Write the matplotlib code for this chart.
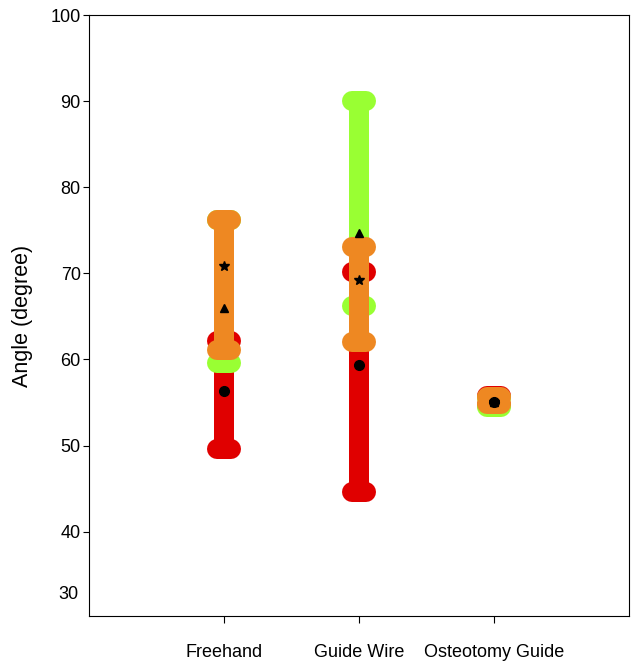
import numpy as np
import matplotlib.pyplot as plt
import matplotlib.transforms as mtransforms

plt.rcParams['font.family'] = ['Liberation Sans', 'DejaVu Sans']

categories = ['Freehand', 'Guide Wire', 'Osteotomy Guide']

# range (min, max) and mean for each group
red_min = [49.6, 44.6, 54.7]
red_max = [62.1, 70.1, 55.8]
red_mean = [56.3, 59.3, 55.1]

green_min = [59.6, 66.2, 54.5]
green_max = [76.2, 90.0, 55.5]
green_mean = [66.0, 74.7, 55.1]

orange_min = [61.1, 62.0, 54.8]
orange_max = [76.2, 73.0, 55.6]
orange_mean = [70.8, 69.2, 55.1]

series = [
    (red_min, red_max, red_mean, '#e00000', 'o'),
    (green_min, green_max, green_mean, '#99ff33', '^'),
    (orange_min, orange_max, orange_mean, '#ee8822', '*'),
]

fig = plt.figure(figsize=(6.33, 6.62), dpi=100)
ax = fig.add_axes([89 / 633, 1 - 616 / 662, 540 / 633, 601 / 662])

x = np.arange(1, len(categories) + 1)
lw = 14.4
half = 0.055

for lo, hi, mean, col, mk in series:
    for xi, a, b in zip(x, lo, hi):
        ax.plot([xi, xi], [a, b], color=col, lw=lw, solid_capstyle='butt', zorder=2)
        for v in (a, b):
            ax.plot([xi - half, xi + half], [v, v], color=col, lw=lw,
                    solid_capstyle='round', zorder=2)

for lo, hi, mean, col, mk in series:
    ax.plot(x, mean, linestyle='none', marker=mk, color='black',
            markersize=7 if mk != '^' else 6, zorder=5)

ax.set_xlim(0, 4)
ax.set_ylim(30.2, 100)
ax.set_xticks(x)
ax.set_xticklabels(categories, fontsize=13)
ax.set_yticks([40, 50, 60, 70, 80, 90, 100])
ax.tick_params(axis='y', labelsize=13, length=4, pad=2, direction='out')
ax.tick_params(axis='x', length=5, direction='out', pad=15)
ax.text(-0.019, 32.7, '30', transform=mtransforms.blended_transform_factory(ax.transAxes, ax.transData),
        ha='right', va='center', fontsize=13)
ax.set_ylabel('Angle (degree)', fontsize=15.5)
ax.yaxis.set_label_coords(-0.104, 0.5)

fig.savefig('out.png', dpi=100)
